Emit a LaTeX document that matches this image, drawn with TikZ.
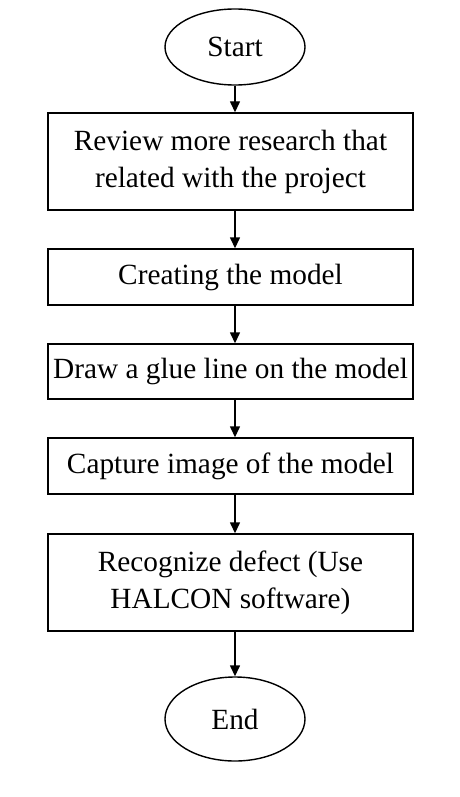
\documentclass[tikz,border=0pt]{standalone}
\usepackage{fontspec}
\setmainfont{Liberation Serif}
\usetikzlibrary{positioning,shapes.geometric,arrows.meta}
\tikzstyle{flow_style}=[
	-{Triangle[length=11pt,width=10pt]},line width=1.4pt,
	stepbox/.style={rectangle,draw,line width=1.4pt,minimum width=365pt,inner sep=1pt,align=center,font=\fontsize{29.3}{37}\selectfont},
	terminal/.style={ellipse,draw,line width=1.4pt,minimum width=140pt,minimum height=76pt,inner sep=0pt,font=\fontsize{29.3}{37}\selectfont}
]
\begin{document}
\begin{tikzpicture}[flow_style,x=1pt,y=-1pt]
	\useasboundingbox (0,0) rectangle (460,797);
	
	\node[terminal]  (start) at (235,47)  {Start};
	\node[stepbox,minimum height=97pt]  (review)  at (230.5,161.5) {Review more research that\\related with the project};
	\node[stepbox,minimum height=56pt]  (create)  at (230.5,277)   {Creating the model};
	\node[stepbox,minimum height=55pt]  (glue)    at (230.5,371.5) {Draw a glue line on the model};
	\node[stepbox,minimum height=56pt]  (capture) at (230.5,466)   {Capture image of the model};
	\node[stepbox,minimum height=97pt]  (detect)  at (230.5,582.5) {Recognize defect (Use\\HALCON software)};
	\node[terminal,minimum height=84pt]  (end)   at (235,719) {End};
	
	\path (start)  edge (start |- review.north)
	(review.south -| start)  edge (start |- create.north)
	(create.south -| start)  edge (start |- glue.north)
	(glue.south -| start)    edge (start |- capture.north)
	(capture.south -| start) edge (start |- detect.north)
	(detect.south -| start)  edge (end);
	
\end{tikzpicture}
\end{document}
